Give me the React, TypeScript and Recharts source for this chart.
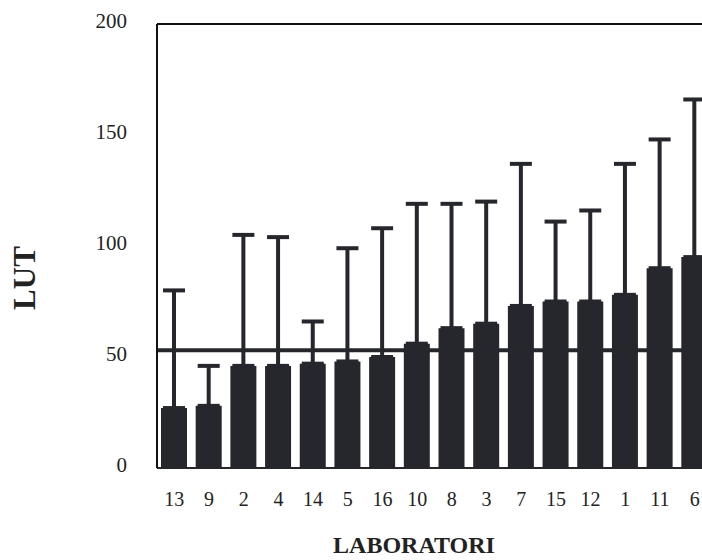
import { BarChart, Bar, XAxis, YAxis, ErrorBar, ReferenceLine, CartesianGrid } from "recharts";

// laboratories, sorted by mean value
const labs = ["13", "9", "2", "4", "14", "5", "16", "10", "8", "3", "7", "15", "12", "1", "11", "6"];
const means = [27, 28, 46, 46, 47, 48, 50, 56, 63, 65, 73, 75, 75, 78, 90, 95];
const upper = [80, 46, 105, 104, 66, 99, 108, 119, 119, 120, 137, 111, 116, 137, 148, 166];
const overallMean = 53;
const yTicks = [0, 50, 100, 150, 200];

const data = labs.map((lab, i) => ({
    lab,
    lut: means[i],
    err: [0, upper[i] - means[i]],
}));

const serif = "'Liberation Serif', 'Times New Roman', serif";

export default function App() {
    return (
        <div style={{ position: "fixed", left: 0, top: 0, width: 702, height: 560, overflow: "hidden", background: "#fff" }}>
            <BarChart
                width={712}
                height={560}
                data={data}
                barSize={26}
                margin={{ top: 24, right: 0, left: 0, bottom: 62 }}
            >
                {/* overall mean, drawn behind the bars */}
                <CartesianGrid
                    vertical={false}
                    horizontalValues={[overallMean]}
                    stroke="#26272d"
                    strokeWidth={4}
                />
                <ReferenceLine y={200} stroke="#111" strokeWidth={2} />
                <XAxis
                    dataKey="lab"
                    axisLine={{ stroke: "#26272d", strokeWidth: 2 }}
                    tickLine={false}
                    tickSize={0}
                    tickMargin={24}
                    height={30}
                    interval={0}
                    tick={{ fill: "#222", fontSize: 20, fontFamily: serif }}
                />
                <YAxis
                    width={157}
                    domain={[0, 200]}
                    ticks={yTicks}
                    axisLine={{ stroke: "#111", strokeWidth: 2 }}
                    tickLine={false}
                    tickSize={0}
                    tickMargin={30}
                    tick={{ fill: "#222", fontSize: 21, fontFamily: serif, dy: -3 }}
                />
                <Bar dataKey="lut" fill="#26272d" isAnimationActive={false}>
                    <ErrorBar dataKey="err" direction="y" width={11} stroke="#26272d" strokeWidth={4} />
                </Bar>
            </BarChart>
            <div style={{
                position: "absolute", left: 25, top: 278, transform: "translate(-50%, -50%) rotate(-90deg)",
                fontFamily: serif, fontWeight: "bold", fontSize: 31, color: "#222",
            }}>LUT</div>
            <div style={{
                position: "absolute", left: 414, top: 545, transform: "translate(-50%, -50%)",
                fontFamily: serif, fontWeight: "bold", fontSize: 24, color: "#222", whiteSpace: "nowrap",
            }}>LABORATORI</div>
        </div>
    );
}
